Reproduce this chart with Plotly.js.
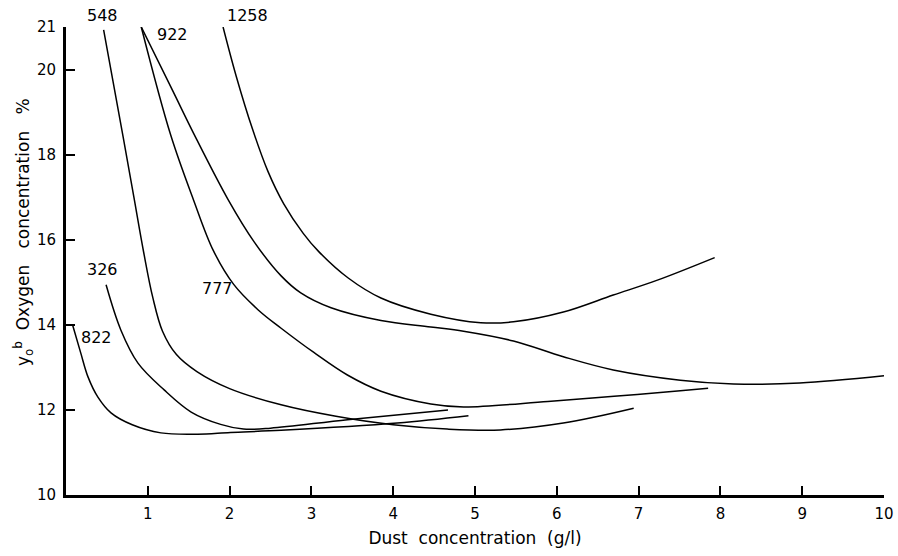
<!DOCTYPE html>
<html>
<head>
<meta charset="utf-8">
<script src="https://cdn.plot.ly/plotly-3.0.1.min.js"></script>
<style>html,body{margin:0;padding:0;background:#fff;}#chart{width:898px;height:556px;}</style>
</head>
<body>
<div id="chart"></div>
<script>
// Curve data (x: dust concentration g/l, y: oxygen concentration %)
var c1258_x = [1.92, 2.08, 2.28, 2.47, 2.66, 2.90, 3.09, 3.45, 3.85, 4.46, 5.07, 5.47, 6.08, 6.69, 7.23, 7.93];
var c1258_y = [21.0, 19.85, 18.6, 17.6, 16.85, 16.15, 15.72, 15.1, 14.63, 14.25, 14.05, 14.07, 14.3, 14.7, 15.05, 15.58];

var c922_x = [0.92, 1.31, 1.56, 1.98, 2.30, 2.63, 2.87, 3.24, 3.85, 4.46, 4.86, 5.47, 6.08, 6.69, 7.51, 8.16, 8.97, 10.0];
var c922_y = [21.0, 19.48, 18.5, 16.95, 15.95, 15.15, 14.75, 14.40, 14.1, 13.95, 13.85, 13.62, 13.25, 12.94, 12.70, 12.61, 12.63, 12.8];

var c777_x = [0.92, 1.28, 1.56, 1.80, 2.05, 2.35, 2.63, 3.03, 3.44, 3.85, 4.46, 4.86, 5.89, 6.70, 7.51, 7.85];
var c777_y = [21.0, 18.46, 16.93, 15.75, 14.95, 14.35, 13.92, 13.35, 12.82, 12.44, 12.14, 12.07, 12.2, 12.32, 12.45, 12.51];

var c548_x = [0.46, 0.70, 0.83, 0.95, 1.06, 1.18, 1.35, 1.60, 2.00, 2.63, 3.30, 4.00, 4.66, 5.31, 6.08, 6.94];
var c548_y = [20.93, 18.4, 17.0, 15.7, 14.65, 13.85, 13.3, 12.9, 12.5, 12.12, 11.85, 11.65, 11.55, 11.53, 11.69, 12.04];

var c326_x = [0.49, 0.67, 0.88, 1.20, 1.53, 1.89, 2.17, 2.50, 3.44, 4.67];
var c326_y = [14.94, 13.88, 13.10, 12.47, 11.95, 11.66, 11.55, 11.57, 11.77, 12.0];

var c822_x = [0.08, 0.18, 0.27, 0.39, 0.55, 0.81, 1.16, 1.61, 2.01, 2.63, 4.05, 4.92];
var c822_y = [14.0, 13.34, 12.77, 12.30, 11.93, 11.65, 11.46, 11.43, 11.47, 11.52, 11.69, 11.86];

var curveNames = ['1258', '922', '777', '548', '326', '822'];
var xTicks = [1, 2, 3, 4, 5, 6, 7, 8, 9, 10];
var yTicks = [10, 12, 14, 16, 18, 20, 21];

var FONT = 'DejaVu Sans, Liberation Sans, sans-serif';
var lineStyle = {color: '#000', width: 1.5, shape: 'spline', smoothing: 1};

var series = [
  [c1258_x, c1258_y], [c922_x, c922_y], [c777_x, c777_y],
  [c548_x, c548_y], [c326_x, c326_y], [c822_x, c822_y]
];
var traces = series.map(function (s, i) {
  return {x: s[0], y: s[1], mode: 'lines', name: curveNames[i], line: lineStyle, hoverinfo: 'x+y+name'};
});

// curve label positions (paper coordinates)
var labelPos = [[0.2213, 1.0256], [0.1296, 0.985], [0.1846, 0.4423], [0.0452, 1.0256], [0.0452, 0.4808], [0.0367, 0.3376]];
var annotations = curveNames.map(function (n, i) {
  return {text: n, xref: 'paper', yref: 'paper', x: labelPos[i][0], y: labelPos[i][1],
          showarrow: false, xanchor: 'center', yanchor: 'middle',
          font: {family: FONT, size: 16, color: '#000'}};
});
var sp = '\u00a0';
annotations.push({
  text: 'y<sub>o</sub><sup>b</sup>' + sp + sp + 'Oxygen' + sp + sp + sp + 'concentration' + sp + sp + sp + '%',
  xref: 'paper', yref: 'paper', x: -0.0513, y: 0.562, textangle: -90,
  showarrow: false, xanchor: 'center', yanchor: 'middle',
  font: {family: FONT, size: 17, color: '#000'}
});

var layout = {
  width: 898, height: 556,
  margin: {l: 66, r: 14, t: 27, b: 61},
  paper_bgcolor: '#fff', plot_bgcolor: '#fff',
  showlegend: false,
  font: {family: FONT, color: '#000'},
  xaxis: {
    range: [0, 10], showgrid: false, zeroline: false,
    showline: true, linecolor: '#000', linewidth: 2.5,
    ticks: 'inside', ticklen: 9, tickwidth: 2, tickcolor: '#000',
    tickvals: xTicks, ticktext: xTicks.map(String),
    tickfont: {family: FONT, size: 15, color: '#000'},
    ticklabelstandoff: 3,
    title: {text: 'Dust' + sp + sp + 'concentration' + sp + sp + '(g/l)', font: {family: FONT, size: 17, color: '#000'}, standoff: 11}
  },
  yaxis: {
    range: [10, 21], showgrid: false, zeroline: false,
    showline: true, linecolor: '#000', linewidth: 3,
    ticks: 'inside', ticklen: 9, tickwidth: 2, tickcolor: '#000',
    tickvals: yTicks, ticktext: yTicks.map(String),
    tickfont: {family: FONT, size: 15, color: '#000'},
    ticklabelstandoff: 4
  },
  annotations: annotations
};

Plotly.newPlot('chart', traces, layout, {displayModeBar: false, staticPlot: true});
</script>
</body>
</html>
